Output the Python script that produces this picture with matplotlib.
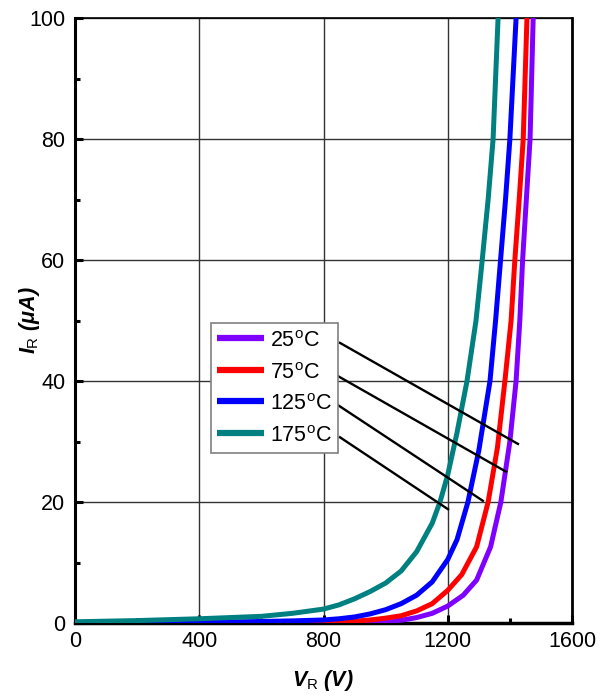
import matplotlib
matplotlib.use("Agg")
import matplotlib.pyplot as plt
from matplotlib.ticker import MultipleLocator

plt.rcParams['font.family'] = ['Liberation Sans', 'DejaVu Sans']
plt.rcParams['mathtext.fontset'] = 'custom'
plt.rcParams['mathtext.rm'] = 'Liberation Sans'
plt.rcParams['mathtext.it'] = 'Liberation Sans:italic:bold'
plt.rcParams['mathtext.bf'] = 'Liberation Sans:bold'

# ---- data ----
labels = ["25$^\\mathrm{o}$C", "75$^\\mathrm{o}$C", "125$^\\mathrm{o}$C", "175$^\\mathrm{o}$C"]
colors = ["#8000FF", "#FF0000", "#0000FF", "#008080"]

v_25 = [0, 800, 900, 950, 1000, 1056, 1100, 1150, 1200, 1250, 1293, 1338, 1371, 1400, 1420, 1432, 1441, 1453, 1465, 1475]
i_25 = [0, 0.02, 0.05, 0.1, 0.25, 0.5, 0.9, 1.6, 2.8, 4.6, 7.1, 12.6, 20, 30, 40, 50, 60, 70, 80, 100]

v_75 = [0, 600, 800, 900, 950, 1000, 1050, 1100, 1150, 1200, 1245, 1293, 1330, 1360, 1384, 1404, 1416, 1430, 1443, 1455]
i_75 = [0, 0.03, 0.1, 0.3, 0.5, 0.8, 1.2, 2.0, 3.2, 5.4, 8.0, 12.6, 20, 29, 40, 50, 60, 70, 80, 100]

v_125 = [0, 200, 400, 600, 700, 800, 850, 900, 950, 1000, 1050, 1100, 1150, 1200, 1230, 1265, 1300, 1336, 1354, 1370, 1386, 1400, 1420]
i_125 = [0, 0.05, 0.1, 0.25, 0.35, 0.5, 0.7, 1.0, 1.5, 2.2, 3.2, 4.6, 6.8, 10.5, 13.8, 20, 28.5, 40, 50, 60, 70, 80, 100]

v_175 = [0, 100, 200, 300, 400, 500, 600, 700, 800, 850, 900, 950, 1000, 1050, 1100, 1150, 1175, 1200, 1230, 1262, 1291, 1311, 1330, 1346, 1362]
i_175 = [0.2, 0.3, 0.4, 0.55, 0.7, 0.9, 1.1, 1.6, 2.3, 3.0, 4.0, 5.2, 6.6, 8.6, 11.8, 16.5, 20, 24.5, 31.5, 40, 50, 60, 70, 80, 100]

series_v = [v_25, v_75, v_125, v_175]
series_i = [i_25, i_75, i_125, i_175]

# annotation pointer lines: start (near legend text) -> end (on curve)
ann_start_v = [853, 847, 847, 853]
ann_start_i = [46.3, 40.8, 36.0, 30.7]
ann_end_v = [1426, 1388, 1313, 1201]
ann_end_i = [29.6, 25.0, 20.2, 18.8]

x_ticks = [0, 400, 800, 1200, 1600]
y_ticks = [0, 20, 40, 60, 80, 100]

# ---- figure ----
fig = plt.figure(figsize=(6.11, 6.97), dpi=100)
ax = fig.add_axes([75/611, 1-623/697, (572-75)/611, (623-18)/697])

ax.set_xlim(0, 1600)
ax.set_ylim(0, 100)
ax.set_xticks(x_ticks)
ax.set_yticks(y_ticks)
ax.xaxis.set_minor_locator(MultipleLocator(200))
ax.yaxis.set_minor_locator(MultipleLocator(10))

ax.grid(True, which='major', color='#333333', linewidth=1.0, zorder=0)
ax.set_axisbelow(True)

for v, i, c, lab in zip(series_v, series_i, colors, labels):
    ax.plot(v, i, color=c, linewidth=3.6, label=lab, zorder=3,
            solid_joinstyle='round', solid_capstyle='butt')

for sv, si, ev, ei in zip(ann_start_v, ann_start_i, ann_end_v, ann_end_i):
    ax.plot([sv, ev], [si, ei], color='black', linewidth=1.7, zorder=4)

ax.tick_params(axis='both', which='major', direction='in', length=6, width=2.2,
               labelsize=15.5, top=False, right=False)
ax.tick_params(axis='both', which='minor', direction='in', length=3.5, width=2.2,
               top=False, right=False)
ax.tick_params(axis='x', which='major', pad=6)
ax.tick_params(axis='y', which='major', pad=7)

ax.spines['left'].set_linewidth(2.2)
ax.spines['bottom'].set_linewidth(2.5)
ax.spines['right'].set_linewidth(2.0)
ax.spines['top'].set_linewidth(1.2)

ax.set_xlabel("$V_\\mathrm{R}$ (V)", fontsize=15.5, fontweight='bold', fontstyle='italic')
ax.set_ylabel("$I_\\mathrm{R}$ (μA)", fontsize=15.5, fontweight='bold', fontstyle='italic')
ax.xaxis.set_label_coords((323-75)/497, (623-668)/605)
ax.yaxis.set_label_coords((42-75)/497, 0.5)

leg = ax.legend(loc='upper left', bbox_to_anchor=((211-75)/497, (623-323)/605),
                borderaxespad=0, fontsize=15.5, frameon=True, fancybox=False,
                edgecolor='#808080', framealpha=1, borderpad=0.3,
                handlelength=2.15, handleheight=1.15, handletextpad=0.3,
                labelspacing=0.39)
leg.get_frame().set_linewidth(1.2)
for line in leg.get_lines():
    line.set_linewidth(4.5)
leg.set_zorder(5)

fig.savefig("out.png", dpi=100)
